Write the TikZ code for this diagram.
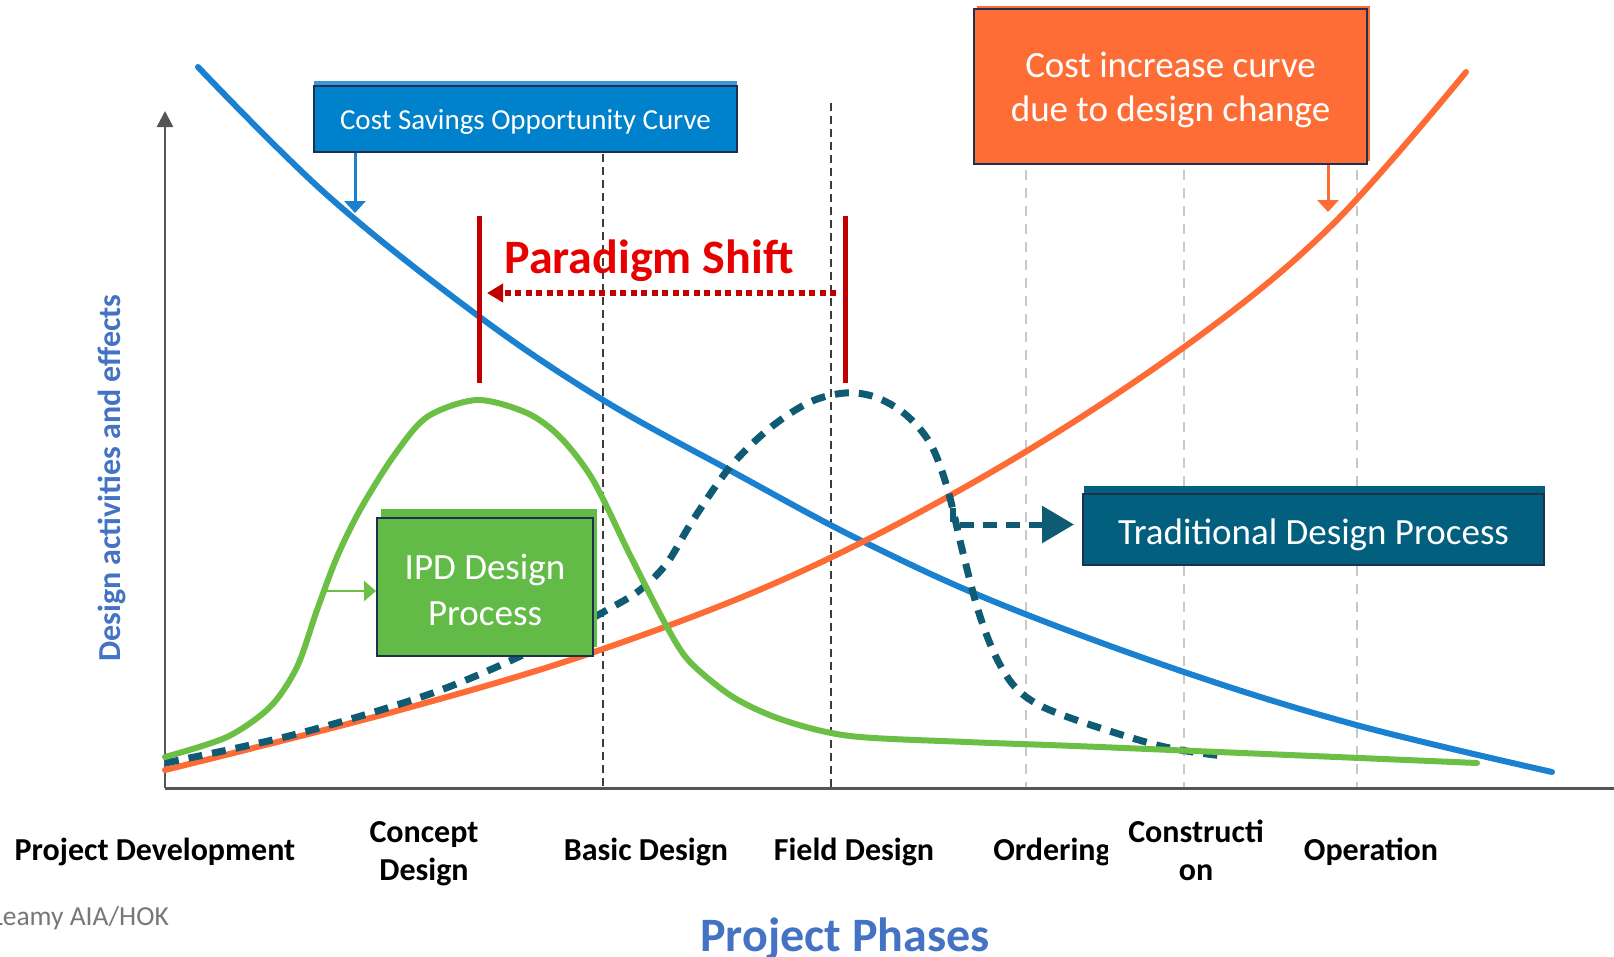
\documentclass[tikz,border=0pt]{standalone}
\usepackage{fontspec}
\setmainfont{Carlito}
\usetikzlibrary{arrows.meta,shadows}
\definecolor{cblue}{HTML}{1A80D0}
\definecolor{corange}{HTML}{FF6B35}
\definecolor{cgreen}{HTML}{6CBF45}
\definecolor{cteal}{HTML}{0F5B74}
\definecolor{csbox}{HTML}{0081CB}
\definecolor{csshadow}{HTML}{3A96D8}
\definecolor{cibox}{HTML}{FF6D37}
\definecolor{tdbox}{HTML}{02607E}
\definecolor{ipdbox}{HTML}{62BB46}
\definecolor{navy}{HTML}{1F2F50}
\definecolor{axblue}{HTML}{4472C4}
\definecolor{darkred}{HTML}{C00000}
\definecolor{brightred}{HTML}{E60000}
\definecolor{gridgray}{HTML}{C8C8C8}
\definecolor{axgray}{HTML}{555555}
\definecolor{griddark}{HTML}{3C3C3C}
\begin{document}
\begin{tikzpicture}[x=1pt,y=-1pt,
  curve/.style={line width=6pt, line cap=round, line join=round},
  boxnode/.style={draw=navy, line width=2pt, inner sep=0pt, text=white, align=center},
  phase/.style={font=\bfseries\fontsize{32}{38}\selectfont, inner sep=0pt, anchor=base, text=black},
  darkgrid/.style={draw=griddark, line width=1.5pt, dash pattern=on 8pt off 5pt},
  lightgrid/.style={draw=gridgray, line width=1.5pt, dash pattern=on 10pt off 8pt},
  redbar/.style={draw=darkred, line width=5pt},
  pointer/.style={line width=3pt, -{Triangle[length=12pt,width=21pt]}}
]
\useasboundingbox (0,0) rectangle (1614,956);

% grid lines
\draw[darkgrid] (603,154) -- (603,788);
\draw[darkgrid] (831,103) -- (831,788);
\draw[lightgrid] (1026,170) -- (1026,788);
\draw[lightgrid] (1184,170) -- (1184,788);
\draw[lightgrid] (1357,170) -- (1357,788);

% axes
\coordinate (O) at (165,788);
\coordinate (yT) at (165,111);
\coordinate (xR) at (1614,788);
\draw[axgray, line width=2.5pt, -{Triangle[length=16pt,width=16pt]}] (O) -- (yT);
\draw[axgray, line width=3pt] (O) -- (xR);

% curves
\draw[curve, cblue] plot[smooth, tension=0.6] coordinates {(198,67) (327,195) (477,315) (603,400) (733,472) (860,540) (1000,604) (1187,673) (1360,726) (1552,772)};
\draw[curve, corange] plot[smooth, tension=0.6] coordinates {(165,770) (400,710) (600,650) (800,572) (1000,467) (1187,345) (1331,226) (1466,72)};
\draw[curve, cteal, line width=7pt, line cap=butt, dash pattern=on 14pt off 10pt] plot[smooth, tension=0.55] coordinates {(165,763) (293,735) (427,695) (527,653) (607,610) (640,590) (667,563) (693,520) (730,467) (770,428) (810,402) (845,393) (875,397) (905,414) (930,443) (947,487) (963,553) (978,610) (995,655) (1015,687) (1043,707) (1097,727) (1165,747) (1223,756)};
\draw[curve, cgreen] plot[smooth, tension=0.5] coordinates {(165,757) (227,737) (270,707) (297,667) (317,610) (337,557) (360,510) (393,457) (427,417) (477,400) (527,413) (560,437) (593,480) (630,555) (667,627) (690,662) (733,697) (783,720) (850,736) (967,742) (1100,747) (1477,763)};

% paradigm shift
\coordinate (rA1) at (479,216); \coordinate (rA2) at (479,383);
\coordinate (rB1) at (845,216); \coordinate (rB2) at (845,383);
\draw[redbar] (rA1) -- (rA2);
\draw[redbar] (rB1) -- (rB2);
\coordinate (pS) at (836,293); \coordinate (pE) at (487,293);
\draw[darkred, line width=6pt, dash pattern=on 6pt off 4.5pt, -{Triangle[length=16pt,width=18pt]}] (pS) -- (pE);
\node[font=\bfseries\fontsize{48}{56}\selectfont, text=brightred, anchor=base, inner sep=0pt] (ps) at (649,273) {Paradigm Shift};

% boxes
\node[boxnode, fill=csbox, minimum width=423pt, minimum height=66pt,
  general shadow={fill=csshadow, shadow xshift=0pt, shadow yshift=5pt},
  font=\fontsize{29}{34}\selectfont, text height=21pt, text depth=0pt] (cs) at (525.5,119) {Cost Savings Opportunity Curve};
\node[boxnode, fill=cibox, minimum width=393pt, minimum height=155pt,
  general shadow={fill=cibox, shadow xshift=3pt, shadow yshift=3pt},
  font=\fontsize{37}{44}\selectfont] (ci) at (1170.5,86.5) {\rule{0pt}{32pt}Cost increase curve\\due to design change};
\node[boxnode, fill=tdbox, minimum width=461pt, minimum height=71pt,
  general shadow={fill=tdbox, shadow xshift=1pt, shadow yshift=8pt},
  font=\fontsize{37}{45}\selectfont, text height=29pt, text depth=0pt] (td) at (1313.5,529.5) {Traditional Design Process};
\node[boxnode, fill=ipdbox, minimum width=216pt, minimum height=138pt,
  general shadow={fill=ipdbox, shadow xshift=4pt, shadow yshift=9pt},
  font=\fontsize{37}{46}\selectfont] (ipd) at (485,586.5) {\rule{0pt}{32pt}IPD Design\\Process};

% pointers
\coordinate (csT) at (355,213);
\draw[pointer, cblue] (cs.south -| csT) -- (csT);
\coordinate (ciT) at (1328,212);
\draw[pointer, corange] (ci.south -| ciT) -- (ciT);
\coordinate (gA) at (326,591);
\draw[pointer, cgreen, line width=2.5pt, -{Triangle[length=12pt,width=20pt]}] (gA) -- (ipd.west |- gA);
\coordinate (tA) at (953,508);
\draw[cteal, line width=6pt, dash pattern=on 14pt off 9pt, -{Triangle[length=32pt,width=36pt]}] (tA) |- ([xshift=-8pt,yshift=5pt]td.west);

% axis labels
\node[rotate=90, font=\bfseries\fontsize{32}{38}\selectfont, text=axblue, inner sep=0pt] (ylab) at (112,478) {Design activities and effects};
\node[font=\bfseries\fontsize{48}{56}\selectfont, text=axblue, anchor=base, inner sep=0pt] (xlab) at (845,951) {Project Phases};
\node[font=\fontsize{27.5}{32}\selectfont, text=axgray!80, anchor=base east, inner sep=0pt] (src) at (169,925) {Leamy AIA/HOK};

% phase labels
\node[phase] (p1) at (155,860) {Project Development};
\node[phase] (p2) at (424,842) {\setlength{\tabcolsep}{0pt}\begin{tabular}[t]{c}Concept\\Design\end{tabular}};
\node[phase] (p3) at (646,860) {Basic Design};
\node[phase] (p4) at (854,860) {Field Design};
\begin{scope}
\clip (900,780) rectangle (1107,900);
\node[phase] (p5) at (1052,860) {Ordering};
\end{scope}
\node[phase] (p6) at (1196,842) {\setlength{\tabcolsep}{0pt}\begin{tabular}[t]{c}Constructi\\on\end{tabular}};
\node[phase] (p7) at (1371,860) {Operation};
\end{tikzpicture}
\end{document}
